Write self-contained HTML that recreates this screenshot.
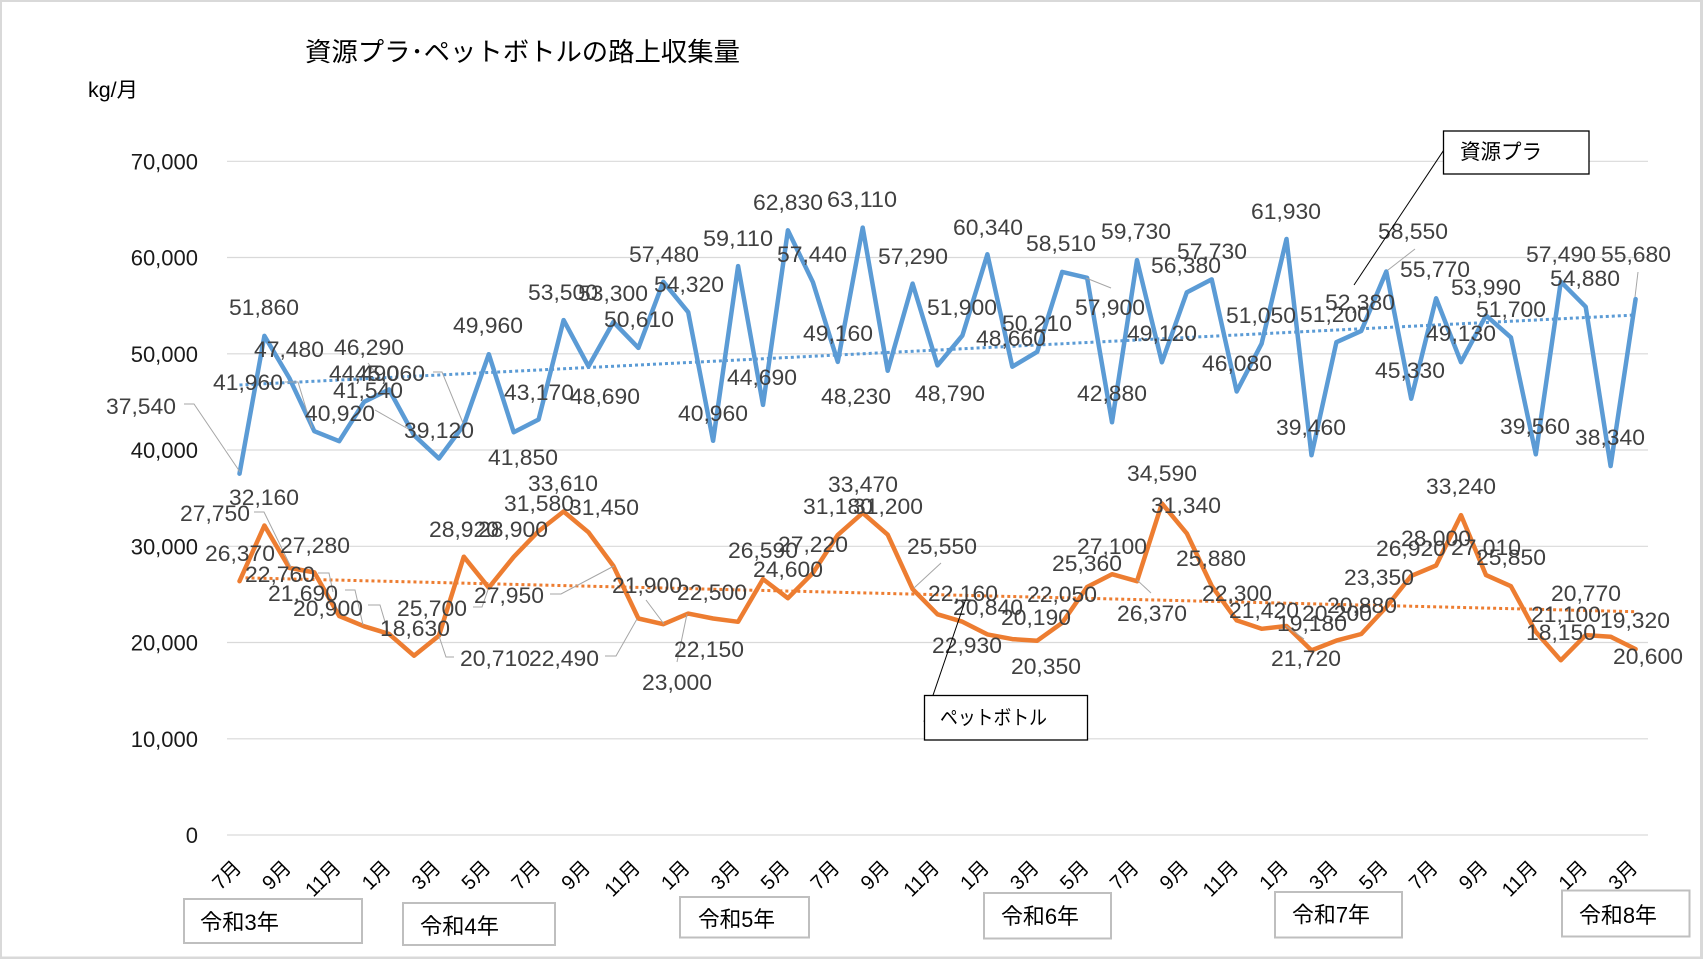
<!DOCTYPE html>
<html>
<head>
<meta charset="utf-8">
<style>
  html,body{margin:0;padding:0;background:#fff;}
  svg{display:block;}
  .dl{font-family:"Liberation Sans","Noto Sans CJK JP",sans-serif;font-size:22px;fill:#404040;}
  .tk{font-family:"Liberation Sans","Noto Sans CJK JP",sans-serif;font-size:22px;fill:#1a1a1a;}
  .mo{font-family:"Liberation Sans","Noto Sans CJK JP",sans-serif;font-size:20px;fill:#000;}
  .jp{font-family:"Liberation Sans","Noto Sans CJK JP",sans-serif;fill:#000;}
</style>
</head>
<body>
<svg width="1703" height="959" viewBox="0 0 1703 959" xmlns="http://www.w3.org/2000/svg">
  <rect x="0" y="0" width="1703" height="959" fill="#d9d9d9"/>
  <rect x="2" y="2" width="1698" height="954.5" fill="#ffffff"/>

  <!-- gridlines -->
  <g stroke="#d9d9d9" stroke-width="1.2">
    <line x1="227" y1="161.3" x2="1648" y2="161.3"/>
    <line x1="227" y1="257.5" x2="1648" y2="257.5"/>
    <line x1="227" y1="353.8" x2="1648" y2="353.8"/>
    <line x1="227" y1="450" x2="1648" y2="450"/>
    <line x1="227" y1="546.3" x2="1648" y2="546.3"/>
    <line x1="227" y1="642.5" x2="1648" y2="642.5"/>
    <line x1="227" y1="738.8" x2="1648" y2="738.8"/>
    <line x1="227" y1="835" x2="1648" y2="835"/>
  </g>

  <!-- y tick labels -->
  <g class="tk" text-anchor="end">
    <text x="198" y="169.5">70,000</text>
    <text x="198" y="265.7">60,000</text>
    <text x="198" y="362">50,000</text>
    <text x="198" y="458.2">40,000</text>
    <text x="198" y="554.5">30,000</text>
    <text x="198" y="650.7">20,000</text>
    <text x="198" y="747">10,000</text>
    <text x="198" y="843.2">0</text>
  </g>

  <!-- title & unit -->
  <text class="jp" x="305" y="61" font-size="26" textLength="435" lengthAdjust="spacingAndGlyphs">資源プラ･ペットボトルの路上収集量</text>
  <text class="jp" x="88" y="97" font-size="21" textLength="50" lengthAdjust="spacingAndGlyphs">kg/月</text>

  <!-- series lines -->
  <polyline fill="none" stroke="#5B9BD5" stroke-width="4.5" stroke-linejoin="round" stroke-linecap="round"
    points="239.5,473.7 264.4,335.9 289.3,378.0 314.3,431.2 339.2,441.2 364.1,401.9 389.0,389.5 414.0,435.2 438.9,458.5 463.8,425.0 488.8,354.2 513.7,432.2 538.6,419.5 563.6,320.1 588.5,366.4 613.4,322.0 638.4,347.9 663.3,281.8 688.2,312.2 713.1,440.8 738.1,266.1 763.0,404.9 787.9,230.3 812.9,282.2 837.8,361.9 862.7,227.6 887.7,370.8 912.6,283.6 937.5,365.4 962.4,335.5 987.4,254.3 1012.3,366.7 1037.2,351.8 1062.2,271.9 1087.1,277.8 1112.0,422.3 1137.0,260.1 1161.9,362.3 1186.8,292.4 1211.7,279.4 1236.7,391.5 1261.6,343.7 1286.5,239.0 1311.5,455.2 1336.4,342.2 1361.3,330.9 1386.3,271.5 1411.2,398.7 1436.1,298.3 1461.0,362.2 1486.0,315.4 1510.9,337.4 1535.8,454.3 1560.8,281.7 1585.7,306.8 1610.6,466.0 1635.6,299.1"/>
  <polyline fill="none" stroke="#ED7D31" stroke-width="4.5" stroke-linejoin="round" stroke-linecap="round"
    points="239.5,581.2 264.4,525.5 289.3,567.9 314.3,572.4 339.2,616.0 364.1,626.3 389.0,633.9 414.0,655.7 438.9,635.7 463.8,556.7 488.8,587.7 513.7,556.9 538.6,531.1 563.6,511.5 588.5,532.3 613.4,566.0 638.4,618.5 663.3,624.2 688.2,613.6 713.1,618.5 738.1,621.8 763.0,579.1 787.9,598.2 812.9,573.0 837.8,534.9 862.7,512.9 887.7,534.7 912.6,589.1 937.5,614.3 962.4,621.7 987.4,634.4 1012.3,639.1 1037.2,640.7 1062.2,622.8 1087.1,587.0 1112.0,574.2 1137.0,581.2 1161.9,503.5 1186.8,533.4 1211.7,585.9 1236.7,620.4 1261.6,628.8 1286.5,626.0 1311.5,650.4 1336.4,640.6 1361.3,634.0 1386.3,607.0 1411.2,575.9 1436.1,565.5 1461.0,515.1 1486.0,575.1 1510.9,586.2 1535.8,631.9 1560.8,660.3 1585.7,635.1 1610.6,636.7 1635.6,649.1"/>

  <!-- trendlines -->
  <line x1="239.5" y1="385" x2="1635.6" y2="315" stroke="#5B9BD5" stroke-width="3" stroke-dasharray="3 3"/>
  <line x1="239.5" y1="577.7" x2="1635.6" y2="611.7" stroke="#ED7D31" stroke-width="3" stroke-dasharray="3 3"/>

  <!-- leader lines -->
  <g fill="none" stroke="#a6a6a6" stroke-width="1">
    <polyline points="184,404 194,404 240,472"/>
    <polyline points="285,382 298,382 312,428"/>
    <polyline points="368,363 378,376"/>
    <polyline points="375,410 410,430"/>
    <polyline points="433,372 442,372 463,423"/>
    <polyline points="1086,278 1111,288"/>
    <polyline points="1415,249 1388,270"/>
    <polyline points="1638,272 1635,297"/>
    <polyline points="254,512 264,512 291,567"/>
    <polyline points="318,573 329,573 333,592"/>
    <polyline points="345,590 355,590 363,625"/>
    <polyline points="368,605 380,605 388,632"/>
    <polyline points="473,607 482,607 489,587"/>
    <polyline points="454,657 446,657 439,636"/>
    <polyline points="605,656 616,656 637,619"/>
    <polyline points="550,594 561,594 614,566"/>
    <polyline points="646,600 664,624"/>
    <polyline points="677,662 687,614"/>
    <polyline points="941,563 914,588"/>
    <polyline points="1137,580 1151,593"/>
    <polyline points="1304,639 1286,626"/>
  </g>

  <!-- blue data labels -->
  <g class="dl">
    <text x="106" y="414" textLength="70" lengthAdjust="spacingAndGlyphs">37,540</text>
    <text x="213" y="390" textLength="70" lengthAdjust="spacingAndGlyphs">41,960</text>
    <text x="229" y="315" textLength="70" lengthAdjust="spacingAndGlyphs">51,860</text>
    <text x="254" y="357" textLength="70" lengthAdjust="spacingAndGlyphs">47,480</text>
    <text x="305" y="421" textLength="70" lengthAdjust="spacingAndGlyphs">40,920</text>
    <text x="334" y="355" textLength="70" lengthAdjust="spacingAndGlyphs">46,290</text>
    <text x="329" y="381" textLength="70" lengthAdjust="spacingAndGlyphs">44,490</text>
    <text x="355" y="381" textLength="70" lengthAdjust="spacingAndGlyphs">45,060</text>
    <text x="333" y="398" textLength="70" lengthAdjust="spacingAndGlyphs">41,540</text>
    <text x="404" y="438" textLength="70" lengthAdjust="spacingAndGlyphs">39,120</text>
    <text x="453" y="333" textLength="70" lengthAdjust="spacingAndGlyphs">49,960</text>
    <text x="488" y="465" textLength="70" lengthAdjust="spacingAndGlyphs">41,850</text>
    <text x="504" y="400" textLength="70" lengthAdjust="spacingAndGlyphs">43,170</text>
    <text x="528" y="300" textLength="70" lengthAdjust="spacingAndGlyphs">53,500</text>
    <text x="578" y="301" textLength="70" lengthAdjust="spacingAndGlyphs">53,300</text>
    <text x="570" y="404" textLength="70" lengthAdjust="spacingAndGlyphs">48,690</text>
    <text x="604" y="327" textLength="70" lengthAdjust="spacingAndGlyphs">50,610</text>
    <text x="629" y="262" textLength="70" lengthAdjust="spacingAndGlyphs">57,480</text>
    <text x="654" y="292" textLength="70" lengthAdjust="spacingAndGlyphs">54,320</text>
    <text x="678" y="421" textLength="70" lengthAdjust="spacingAndGlyphs">40,960</text>
    <text x="703" y="246" textLength="70" lengthAdjust="spacingAndGlyphs">59,110</text>
    <text x="727" y="385" textLength="70" lengthAdjust="spacingAndGlyphs">44,690</text>
    <text x="753" y="210" textLength="70" lengthAdjust="spacingAndGlyphs">62,830</text>
    <text x="777" y="262" textLength="70" lengthAdjust="spacingAndGlyphs">57,440</text>
    <text x="827" y="207" textLength="70" lengthAdjust="spacingAndGlyphs">63,110</text>
    <text x="803" y="341" textLength="70" lengthAdjust="spacingAndGlyphs">49,160</text>
    <text x="821" y="404" textLength="70" lengthAdjust="spacingAndGlyphs">48,230</text>
    <text x="878" y="264" textLength="70" lengthAdjust="spacingAndGlyphs">57,290</text>
    <text x="953" y="235" textLength="70" lengthAdjust="spacingAndGlyphs">60,340</text>
    <text x="927" y="315" textLength="70" lengthAdjust="spacingAndGlyphs">51,900</text>
    <text x="915" y="401" textLength="70" lengthAdjust="spacingAndGlyphs">48,790</text>
    <text x="1002" y="331" textLength="70" lengthAdjust="spacingAndGlyphs">50,210</text>
    <text x="976" y="346" textLength="70" lengthAdjust="spacingAndGlyphs">48,660</text>
    <text x="1026" y="251" textLength="70" lengthAdjust="spacingAndGlyphs">58,510</text>
    <text x="1075" y="315" textLength="70" lengthAdjust="spacingAndGlyphs">57,900</text>
    <text x="1077" y="401" textLength="70" lengthAdjust="spacingAndGlyphs">42,880</text>
    <text x="1101" y="239" textLength="70" lengthAdjust="spacingAndGlyphs">59,730</text>
    <text x="1127" y="341" textLength="70" lengthAdjust="spacingAndGlyphs">49,120</text>
    <text x="1151" y="273" textLength="70" lengthAdjust="spacingAndGlyphs">56,380</text>
    <text x="1177" y="259" textLength="70" lengthAdjust="spacingAndGlyphs">57,730</text>
    <text x="1202" y="371" textLength="70" lengthAdjust="spacingAndGlyphs">46,080</text>
    <text x="1226" y="323" textLength="70" lengthAdjust="spacingAndGlyphs">51,050</text>
    <text x="1251" y="219" textLength="70" lengthAdjust="spacingAndGlyphs">61,930</text>
    <text x="1300" y="322" textLength="70" lengthAdjust="spacingAndGlyphs">51,200</text>
    <text x="1276" y="435" textLength="70" lengthAdjust="spacingAndGlyphs">39,460</text>
    <text x="1325" y="310" textLength="70" lengthAdjust="spacingAndGlyphs">52,380</text>
    <text x="1378" y="239" textLength="70" lengthAdjust="spacingAndGlyphs">58,550</text>
    <text x="1400" y="277" textLength="70" lengthAdjust="spacingAndGlyphs">55,770</text>
    <text x="1375" y="378" textLength="70" lengthAdjust="spacingAndGlyphs">45,330</text>
    <text x="1426" y="341" textLength="70" lengthAdjust="spacingAndGlyphs">49,130</text>
    <text x="1451" y="295" textLength="70" lengthAdjust="spacingAndGlyphs">53,990</text>
    <text x="1476" y="317" textLength="70" lengthAdjust="spacingAndGlyphs">51,700</text>
    <text x="1500" y="434" textLength="70" lengthAdjust="spacingAndGlyphs">39,560</text>
    <text x="1526" y="262" textLength="70" lengthAdjust="spacingAndGlyphs">57,490</text>
    <text x="1550" y="286" textLength="70" lengthAdjust="spacingAndGlyphs">54,880</text>
    <text x="1575" y="445" textLength="70" lengthAdjust="spacingAndGlyphs">38,340</text>
    <text x="1601" y="262" textLength="70" lengthAdjust="spacingAndGlyphs">55,680</text>
  </g>

  <!-- orange data labels -->
  <g class="dl">
    <text x="229" y="505" textLength="70" lengthAdjust="spacingAndGlyphs">32,160</text>
    <text x="180" y="521" textLength="70" lengthAdjust="spacingAndGlyphs">27,750</text>
    <text x="205" y="561" textLength="70" lengthAdjust="spacingAndGlyphs">26,370</text>
    <text x="280" y="553" textLength="70" lengthAdjust="spacingAndGlyphs">27,280</text>
    <text x="245" y="582" textLength="70" lengthAdjust="spacingAndGlyphs">22,760</text>
    <text x="268" y="601" textLength="70" lengthAdjust="spacingAndGlyphs">21,690</text>
    <text x="293" y="616" textLength="70" lengthAdjust="spacingAndGlyphs">20,900</text>
    <text x="380" y="636" textLength="70" lengthAdjust="spacingAndGlyphs">18,630</text>
    <text x="397" y="616" textLength="70" lengthAdjust="spacingAndGlyphs">25,700</text>
    <text x="460" y="666" textLength="70" lengthAdjust="spacingAndGlyphs">20,710</text>
    <text x="529" y="666" textLength="70" lengthAdjust="spacingAndGlyphs">22,490</text>
    <text x="429" y="537" textLength="70" lengthAdjust="spacingAndGlyphs">28,920</text>
    <text x="478" y="537" textLength="70" lengthAdjust="spacingAndGlyphs">28,900</text>
    <text x="504" y="511" textLength="70" lengthAdjust="spacingAndGlyphs">31,580</text>
    <text x="528" y="491" textLength="70" lengthAdjust="spacingAndGlyphs">33,610</text>
    <text x="569" y="515" textLength="70" lengthAdjust="spacingAndGlyphs">31,450</text>
    <text x="474" y="603" textLength="70" lengthAdjust="spacingAndGlyphs">27,950</text>
    <text x="612" y="593" textLength="70" lengthAdjust="spacingAndGlyphs">21,900</text>
    <text x="642" y="690" textLength="70" lengthAdjust="spacingAndGlyphs">23,000</text>
    <text x="677" y="600" textLength="70" lengthAdjust="spacingAndGlyphs">22,500</text>
    <text x="674" y="657" textLength="70" lengthAdjust="spacingAndGlyphs">22,150</text>
    <text x="728" y="558" textLength="70" lengthAdjust="spacingAndGlyphs">26,590</text>
    <text x="778" y="552" textLength="70" lengthAdjust="spacingAndGlyphs">27,220</text>
    <text x="753" y="577" textLength="70" lengthAdjust="spacingAndGlyphs">24,600</text>
    <text x="828" y="492" textLength="70" lengthAdjust="spacingAndGlyphs">33,470</text>
    <text x="803" y="514" textLength="70" lengthAdjust="spacingAndGlyphs">31,180</text>
    <text x="853" y="514" textLength="70" lengthAdjust="spacingAndGlyphs">31,200</text>
    <text x="907" y="554" textLength="70" lengthAdjust="spacingAndGlyphs">25,550</text>
    <text x="928" y="601" textLength="70" lengthAdjust="spacingAndGlyphs">22,160</text>
    <text x="953" y="615" textLength="70" lengthAdjust="spacingAndGlyphs">20,840</text>
    <text x="932" y="653" textLength="70" lengthAdjust="spacingAndGlyphs">22,930</text>
    <text x="1001" y="625" textLength="70" lengthAdjust="spacingAndGlyphs">20,190</text>
    <text x="1011" y="674" textLength="70" lengthAdjust="spacingAndGlyphs">20,350</text>
    <text x="1027" y="602" textLength="70" lengthAdjust="spacingAndGlyphs">22,050</text>
    <text x="1052" y="571" textLength="70" lengthAdjust="spacingAndGlyphs">25,360</text>
    <text x="1077" y="554" textLength="70" lengthAdjust="spacingAndGlyphs">27,100</text>
    <text x="1117" y="621" textLength="70" lengthAdjust="spacingAndGlyphs">26,370</text>
    <text x="1127" y="481" textLength="70" lengthAdjust="spacingAndGlyphs">34,590</text>
    <text x="1151" y="513" textLength="70" lengthAdjust="spacingAndGlyphs">31,340</text>
    <text x="1176" y="566" textLength="70" lengthAdjust="spacingAndGlyphs">25,880</text>
    <text x="1202" y="601" textLength="70" lengthAdjust="spacingAndGlyphs">22,300</text>
    <text x="1229" y="618" textLength="70" lengthAdjust="spacingAndGlyphs">21,420</text>
    <text x="1277" y="631" textLength="70" lengthAdjust="spacingAndGlyphs">19,180</text>
    <text x="1271" y="666" textLength="70" lengthAdjust="spacingAndGlyphs">21,720</text>
    <text x="1302" y="621" textLength="70" lengthAdjust="spacingAndGlyphs">20,200</text>
    <text x="1327" y="613" textLength="70" lengthAdjust="spacingAndGlyphs">20,880</text>
    <text x="1344" y="585" textLength="70" lengthAdjust="spacingAndGlyphs">23,350</text>
    <text x="1376" y="556" textLength="70" lengthAdjust="spacingAndGlyphs">26,920</text>
    <text x="1401" y="546" textLength="70" lengthAdjust="spacingAndGlyphs">28,000</text>
    <text x="1426" y="494" textLength="70" lengthAdjust="spacingAndGlyphs">33,240</text>
    <text x="1451" y="555" textLength="70" lengthAdjust="spacingAndGlyphs">27,010</text>
    <text x="1476" y="565" textLength="70" lengthAdjust="spacingAndGlyphs">25,850</text>
    <text x="1551" y="601" textLength="70" lengthAdjust="spacingAndGlyphs">20,770</text>
    <text x="1531" y="622" textLength="70" lengthAdjust="spacingAndGlyphs">21,100</text>
    <text x="1526" y="640" textLength="70" lengthAdjust="spacingAndGlyphs">18,150</text>
    <text x="1600" y="628" textLength="70" lengthAdjust="spacingAndGlyphs">19,320</text>
    <text x="1613" y="664" textLength="70" lengthAdjust="spacingAndGlyphs">20,600</text>
  </g>

  <!-- month labels -->
  <g class="mo" text-anchor="end">
    <text transform="translate(242.5,869) rotate(-45)">7月</text>
    <text transform="translate(292.3,869) rotate(-45)">9月</text>
    <text transform="translate(342.2,869) rotate(-45)">11月</text>
    <text transform="translate(392.0,869) rotate(-45)">1月</text>
    <text transform="translate(441.9,869) rotate(-45)">3月</text>
    <text transform="translate(491.8,869) rotate(-45)">5月</text>
    <text transform="translate(541.6,869) rotate(-45)">7月</text>
    <text transform="translate(591.5,869) rotate(-45)">9月</text>
    <text transform="translate(641.4,869) rotate(-45)">11月</text>
    <text transform="translate(691.2,869) rotate(-45)">1月</text>
    <text transform="translate(741.1,869) rotate(-45)">3月</text>
    <text transform="translate(790.9,869) rotate(-45)">5月</text>
    <text transform="translate(840.8,869) rotate(-45)">7月</text>
    <text transform="translate(890.7,869) rotate(-45)">9月</text>
    <text transform="translate(940.5,869) rotate(-45)">11月</text>
    <text transform="translate(990.4,869) rotate(-45)">1月</text>
    <text transform="translate(1040.2,869) rotate(-45)">3月</text>
    <text transform="translate(1090.1,869) rotate(-45)">5月</text>
    <text transform="translate(1140.0,869) rotate(-45)">7月</text>
    <text transform="translate(1189.8,869) rotate(-45)">9月</text>
    <text transform="translate(1239.7,869) rotate(-45)">11月</text>
    <text transform="translate(1289.5,869) rotate(-45)">1月</text>
    <text transform="translate(1339.4,869) rotate(-45)">3月</text>
    <text transform="translate(1389.3,869) rotate(-45)">5月</text>
    <text transform="translate(1439.1,869) rotate(-45)">7月</text>
    <text transform="translate(1489.0,869) rotate(-45)">9月</text>
    <text transform="translate(1538.8,869) rotate(-45)">11月</text>
    <text transform="translate(1588.7,869) rotate(-45)">1月</text>
    <text transform="translate(1638.6,869) rotate(-45)">3月</text>
  </g>

  <!-- year boxes -->
  <g fill="#ffffff" stroke="#bfbfbf" stroke-width="2">
    <rect x="184" y="899" width="178" height="44"/>
    <rect x="403" y="903" width="152" height="42"/>
    <rect x="680" y="897" width="129" height="40.5"/>
    <rect x="984" y="893" width="127" height="45.5"/>
    <rect x="1275" y="892" width="127" height="45.5"/>
    <rect x="1562" y="890.5" width="127.5" height="46"/>
  </g>
  <g class="jp" font-size="22">
    <text x="200" y="930" textLength="79" lengthAdjust="spacingAndGlyphs">令和3年</text>
    <text x="420" y="934" textLength="79" lengthAdjust="spacingAndGlyphs">令和4年</text>
    <text x="698" y="927" textLength="77" lengthAdjust="spacingAndGlyphs">令和5年</text>
    <text x="1001" y="924" textLength="78" lengthAdjust="spacingAndGlyphs">令和6年</text>
    <text x="1292" y="922.5" textLength="78" lengthAdjust="spacingAndGlyphs">令和7年</text>
    <text x="1579" y="923" textLength="78" lengthAdjust="spacingAndGlyphs">令和8年</text>
  </g>

  <!-- callouts -->
  <line x1="1443.4" y1="150.7" x2="1354" y2="285" stroke="#000" stroke-width="1"/>
  <rect x="1443.5" y="131" width="145.5" height="43" fill="#ffffff" stroke="#000" stroke-width="1.3"/>
  <text class="jp" x="1460" y="159" font-size="21" textLength="82" lengthAdjust="spacingAndGlyphs">資源プラ</text>

  <line x1="924" y1="721.7" x2="965.5" y2="600" stroke="#000" stroke-width="1"/>
  <rect x="924.5" y="695.5" width="163" height="44.5" fill="#ffffff" stroke="#000" stroke-width="1.3"/>
  <text class="jp" x="940" y="724.5" font-size="20" textLength="107" lengthAdjust="spacingAndGlyphs">ペットボトル</text>
</svg>
</body>
</html>
